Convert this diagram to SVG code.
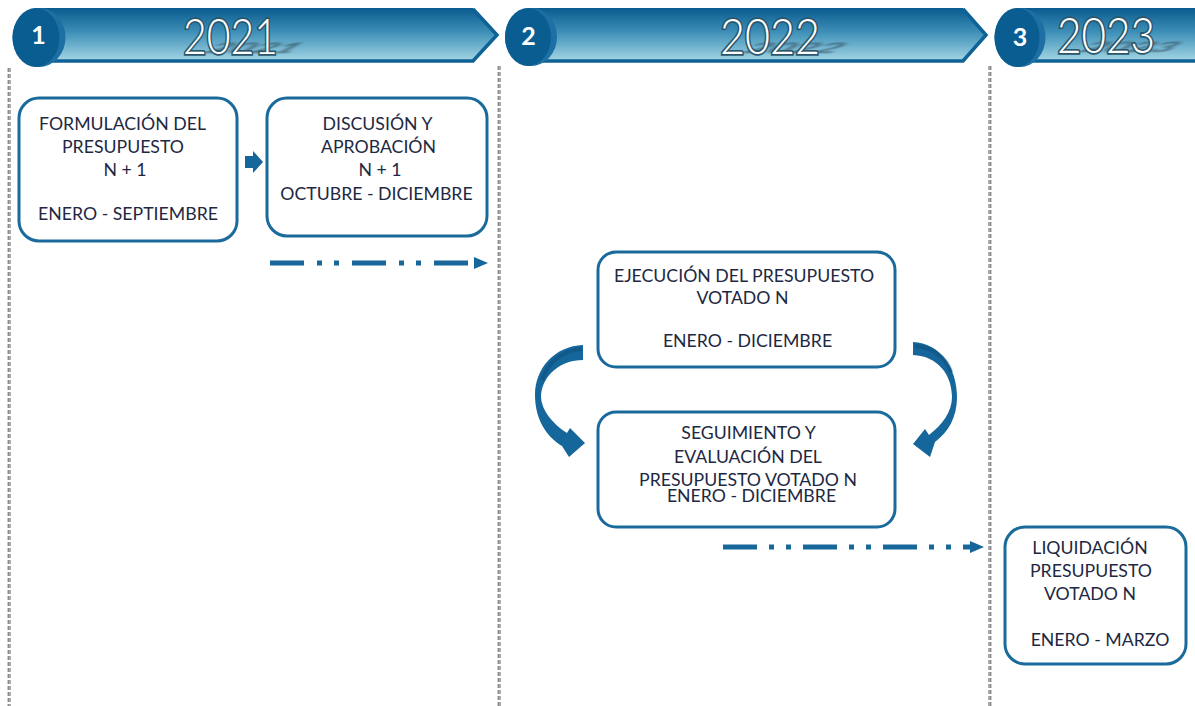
<svg xmlns="http://www.w3.org/2000/svg" width="1195" height="706" viewBox="0 0 1195 706">
<defs>
<linearGradient id="bg" x1="0" y1="0" x2="0" y2="1">
<stop offset="0" stop-color="#0a5b8f"/>
<stop offset="0.45" stop-color="#3d8fb7"/>
<stop offset="1" stop-color="#a4d6e5"/>
</linearGradient>
<filter id="blur" x="-30%" y="-80%" width="160%" height="260%"><feGaussianBlur stdDeviation="2.6"/></filter>
<style>
.box{fill:#fff;stroke:#1b6a9c;stroke-width:3}
.t{font-family:Lato,"Open Sans","Liberation Sans",sans-serif;font-size:17.7px;fill:#1d2842;text-anchor:middle}
.yr{font-family:Lato,"Open Sans","Liberation Sans",sans-serif;font-weight:300;font-size:49px;fill:#fff;stroke:#2a566b;stroke-width:3.4;paint-order:stroke;text-anchor:middle}
.sh{font-family:Lato,"Open Sans","Liberation Sans",sans-serif;font-weight:700;font-size:49px;fill:#2a4452;opacity:0.65;text-anchor:middle}
.num{font-family:Lato,"Open Sans","Liberation Sans",sans-serif;font-weight:700;font-size:25px;fill:#fff;text-anchor:middle}
.ban{fill:url(#bg)}
.edge{fill:none;stroke:#0e6296;stroke-width:3.5;stroke-linejoin:miter}
.cb{fill:#1e70a4}
.cf{fill:#0a5d91}
.div{stroke:#444;stroke-width:0.9;stroke-dasharray:4 2;fill:none}
.dd{stroke:#17679b;stroke-width:5;fill:none}
.arr{fill:#15669b}
</style>
</defs>

<g id="dividers">
<line class="div" x1="8.2" y1="68" x2="8.2" y2="706"/><line class="div" x1="10" y1="68" x2="10" y2="706"/>
<line class="div" x1="498.2" y1="66" x2="498.2" y2="706"/><line class="div" x1="500" y1="66" x2="500" y2="706"/>
<line class="div" x1="989" y1="66" x2="989" y2="706"/><line class="div" x1="990.8" y1="66" x2="990.8" y2="706"/>
</g>

<g id="banner1">
<path class="ban" d="M38,8 L473,8 L497,35 L473,61 L38,61 Z"/>
<path class="edge" d="M38,61 L473,61 L497,35 L473,9"/>
<text class="sh" x="0" y="0" textLength="90" lengthAdjust="spacingAndGlyphs" transform="translate(246,53) skewX(-60) scale(1,0.3)" filter="url(#blur)">2021</text>
<text class="yr" x="230.5" y="54" textLength="95" lengthAdjust="spacingAndGlyphs">2021</text>
<ellipse class="cb" cx="39" cy="37.5" rx="26.5" ry="29.5"/>
<ellipse class="cf" cx="36" cy="37.5" rx="23.5" ry="29.5"/>
<text class="num" x="38.5" y="44">1</text>
</g>

<g id="banner2">
<path class="ban" d="M530,8 L963,8 L986,35 L963,61 L530,61 Z"/>
<path class="edge" d="M530,61 L963,61 L986,35 L963,9"/>
<text class="sh" x="0" y="0" textLength="94" lengthAdjust="spacingAndGlyphs" transform="translate(786,53) skewX(-60) scale(1,0.3)" filter="url(#blur)">2022</text>
<text class="yr" x="770" y="54" textLength="100" lengthAdjust="spacingAndGlyphs">2022</text>
<ellipse class="cb" cx="531" cy="37" rx="26" ry="29"/>
<ellipse class="cf" cx="528" cy="37" rx="23" ry="29"/>
<text class="num" x="528.5" y="45">2</text>
</g>

<g id="banner3">
<path class="ban" d="M1020,8 L1195,8 L1195,61 L1020,61 Z"/>
<path class="edge" d="M1020,61 L1196,61"/>
<text class="sh" x="0" y="0" textLength="92" lengthAdjust="spacingAndGlyphs" transform="translate(1122,52) skewX(-60) scale(1,0.3)" filter="url(#blur)">2023</text>
<text class="yr" x="1106" y="53" textLength="98" lengthAdjust="spacingAndGlyphs">2023</text>
<ellipse class="cb" cx="1020" cy="37.5" rx="25.5" ry="29.5"/>
<ellipse class="cf" cx="1017" cy="37.5" rx="22.5" ry="29.5"/>
<text class="num" x="1020" y="46">3</text>
</g>

<g id="connectors">
<polygon class="arr" points="245,156 253,156 253,151 263,162 253,173 253,168 245,168"/>
<line class="dd" x1="270" y1="263" x2="470" y2="263" stroke-dasharray="34 13 5 12 5 13"/>
<polygon class="arr" points="474,257 488,263 474,269"/>
<line class="dd" x1="723" y1="547" x2="972" y2="547" stroke-dasharray="34 12 5 12 5 12"/>
<polygon class="arr" points="970,541 984,547 970,553"/>
<path class="arr" d="M583,345 C555,346 535,368 535,395 C535,420 547,437 562,446 L569,457 L585,443 L570,428 L567,433 C553,424 541,410 541,396 C542,376 560,360 583,360 Z"/>
<path d="M581,349 C562,351 548,362 542,380" fill="none" stroke="#0c4f7a" stroke-width="4" opacity="0.55"/>
<path class="arr" d="M913,342 C940,343 957,368 957,397 C957,418 948,432 935,442 L930,457 L913,444 L925,429 L929,435 C942,425 952,412 952,397 C952,375 938,356 913,355 Z"/>
<path d="M915,346 C934,348 946,358 951,372" fill="none" stroke="#0c4f7a" stroke-width="4" opacity="0.55"/>
</g>

<g id="node-formulacion">
<rect class="box" x="19" y="98" width="218" height="143" rx="20"/>
<text class="t" x="122.5" y="130">FORMULACIÓN DEL</text>
<text class="t" x="123" y="153">PRESUPUESTO</text>
<text class="t" x="125" y="176">N + 1</text>
<text class="t" x="128" y="220">ENERO - SEPTIEMBRE</text>
</g>

<g id="node-discusion">
<rect class="box" x="267" y="98" width="220" height="138" rx="20"/>
<text class="t" x="377.5" y="130">DISCUSIÓN Y</text>
<text class="t" x="378.5" y="153">APROBACIÓN</text>
<text class="t" x="380" y="176">N + 1</text>
<text class="t" x="376.5" y="200">OCTUBRE - DICIEMBRE</text>
</g>

<g id="node-ejecucion">
<rect class="box" x="598" y="252" width="297" height="115" rx="18"/>
<text class="t" x="744" y="282">EJECUCIÓN DEL PRESUPUESTO</text>
<text class="t" x="742.5" y="304">VOTADO N</text>
<text class="t" x="747.5" y="347">ENERO - DICIEMBRE</text>
</g>

<g id="node-seguimiento">
<rect class="box" x="598" y="412" width="297" height="115" rx="18"/>
<text class="t" x="748.5" y="439">SEGUIMIENTO Y</text>
<text class="t" x="748" y="463">EVALUACIÓN DEL</text>
<text class="t" x="748" y="486">PRESUPUESTO VOTADO N</text>
<text class="t" x="751.5" y="502">ENERO - DICIEMBRE</text>
</g>

<g id="node-liquidacion">
<rect class="box" x="1005" y="527" width="181" height="137" rx="20"/>
<text class="t" x="1090" y="554">LIQUIDACIÓN</text>
<text class="t" x="1091" y="577">PRESUPUESTO</text>
<text class="t" x="1090" y="600">VOTADO N</text>
<text class="t" x="1100" y="646">ENERO - MARZO</text>
</g>
</svg>
